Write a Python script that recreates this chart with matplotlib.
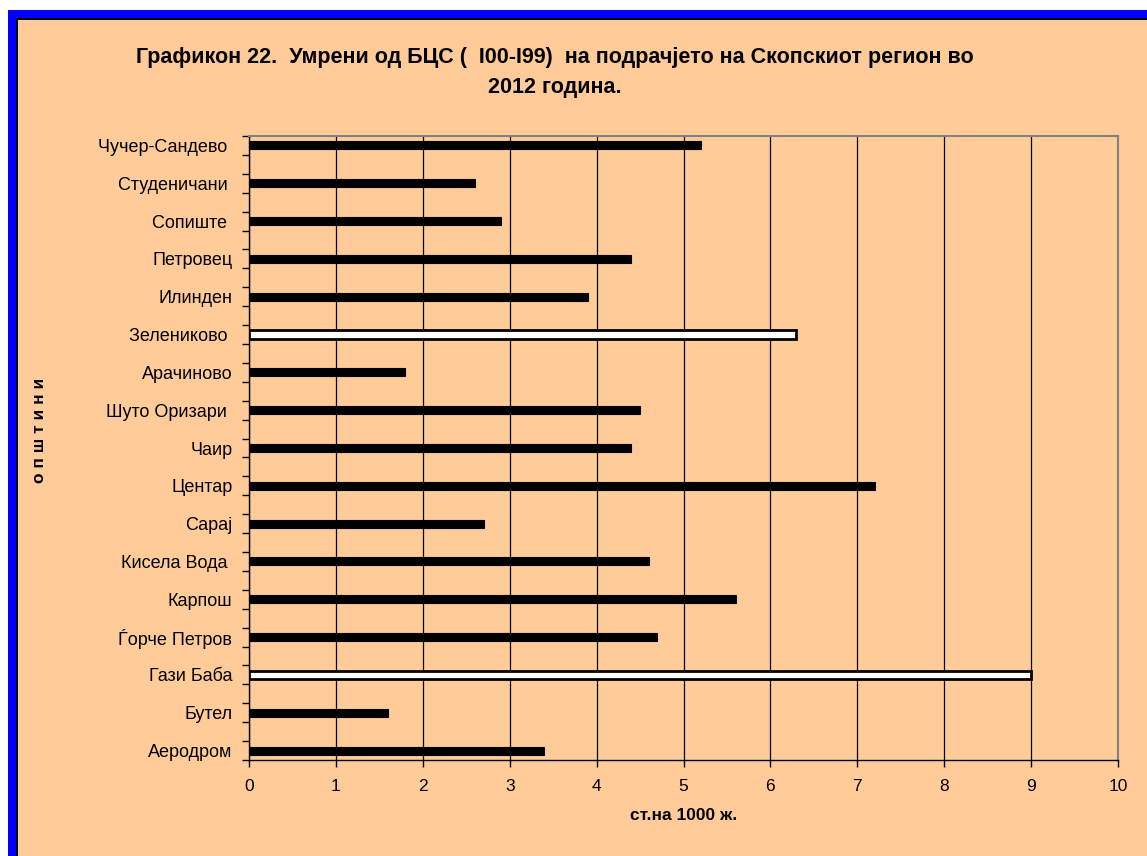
import matplotlib
matplotlib.use("Agg")
import matplotlib.pyplot as plt
from matplotlib.patches import Rectangle
import numpy as np

plt.rcParams['font.family'] = ['Liberation Sans', 'DejaVu Sans']

# Municipalities (top to bottom as displayed) and rates per 1000 inhabitants
municipalities = [
    "Чучер-Сандево ", "Студеничани ", "Сопиште ", "Петровец", "Илинден",
    "Зелениково ", "Арачиново", "Шуто Оризари ", "Чаир", "Центар", "Сарај",
    "Кисела Вода ", "Карпош", "Ѓорче Петров", "Гази Баба", "Бутел", "Аеродром",
]
rates = [5.2, 2.6, 2.9, 4.4, 3.9, 6.3, 1.8, 4.5, 4.4, 7.2, 2.7,
         4.6, 5.6, 4.7, 9.0, 1.6, 3.4]
highlighted = ["Зелениково ", "Гази Баба"]
x_ticks = list(range(0, 11))

bg = "#FFCC99"
W, H = 1147, 856
fig = plt.figure(figsize=(W / 100, H / 100), dpi=100, facecolor="white")

# Outer frame: white margin, blue band, thin black line, orange chart area
frame = fig.add_axes([0, 0, 1, 1], zorder=-5)
frame.set_axis_off()
frame.set_xlim(0, W)
frame.set_ylim(H, 0)
frame.add_patch(Rectangle((8, 10), W, H, facecolor="#0000FF", edgecolor="none"))
frame.add_patch(Rectangle((16, 18), W, H, facecolor="black", edgecolor="none"))
frame.add_patch(Rectangle((17.5, 19.5), W, H, facecolor=bg, edgecolor="none"))

ax = fig.add_axes([249 / W, 1 - 760 / H, (1118 - 249) / W, (760 - 136) / H], zorder=1)
ax.set_facecolor("none")

# Category rows alternate with empty spacer rows
n = len(municipalities)
slots = 2 * n - 1
ypos = np.arange(n) * 2
for name, val, y in zip(municipalities, rates, ypos):
    if name in highlighted:
        ax.barh(y, val, height=0.46, color="white", edgecolor="black",
                linewidth=2.0, zorder=3)
    else:
        ax.barh(y, val, height=0.42, color="black", edgecolor="black",
                linewidth=0.8, zorder=3)

ax.set_xlim(0, 10)
ax.set_ylim(slots - 0.5, -0.5)
ax.set_xticks(x_ticks)
ax.set_xticklabels([str(t) for t in x_ticks], fontsize=12.5)
ax.set_yticks(ypos)
ax.set_yticklabels(municipalities, fontsize=13)
ax.tick_params(axis="y", length=0, pad=12)
ax.set_yticks(np.arange(-0.5, slots, 1.0), minor=True)
ax.tick_params(axis="y", which="minor", length=5, width=1, color="black")
ax.tick_params(axis="x", length=5, width=1, color="black", pad=9)

ax.grid(axis="x", color="black", linewidth=0.9, zorder=1)
ax.set_axisbelow(True)

ax.spines["left"].set_color("black")
ax.spines["bottom"].set_color("black")
ax.spines["top"].set_color("#808080")
ax.spines["right"].set_color("#808080")
for s in ax.spines.values():
    s.set_linewidth(1.5)
ax.spines["left"].set_linewidth(1.0)
ax.spines["bottom"].set_linewidth(1.0)

ax.set_xlabel("ст.на 1000 ж.", fontsize=12.5, fontweight="bold", labelpad=10)
fig.text(40 / W, 1 - 430 / H, "о п ш т и н и", rotation=90, fontsize=12.5,
         fontweight="bold", ha="center", va="center")

fig.text(555 / W, 1 - 58 / H,
         "Графикон 22.  Умрени од БЦС (  I00-I99)  на подрачјето на Скопскиот регион во",
         fontsize=15.5, fontweight="bold", ha="center", va="center")
fig.text(555 / W, 1 - 88 / H, "2012 година.",
         fontsize=15.5, fontweight="bold", ha="center", va="center")

fig.savefig("out.png", dpi=100, facecolor="white")
